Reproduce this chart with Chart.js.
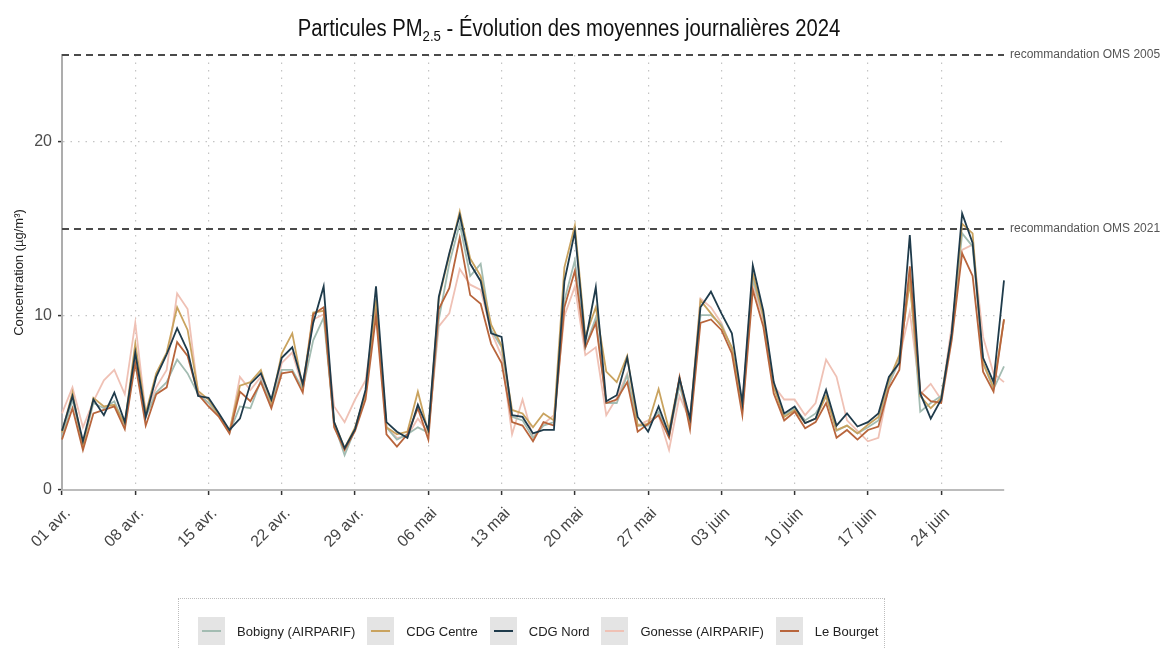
<!DOCTYPE html>
<html lang="fr">
<head>
<meta charset="utf-8">
<script src="https://cdn.jsdelivr.net/npm/chart.js@4.4.1/dist/chart.umd.min.js"></script>
<style>
  body { margin: 0; background: #fff; }
  #wrap { position: relative; width: 1161px; height: 648px; overflow: hidden; font-family: 'Liberation Sans', Arial, sans-serif; }
  #title { position: absolute; top: 15px; left: 0; width: 1138px; text-align: center; font-size: 23px; color: #111;
           transform: scaleX(0.88); transform-origin: 569px 0; }
  #title sub { font-size: 15px; vertical-align: -5px; line-height: 0; }
  #legend { position: absolute; left: 178px; top: 598px; width: 707px; height: 70px; border: 1px dotted #bdbdbd; box-sizing: border-box;
            display: flex; flex-wrap: nowrap; justify-content: flex-start; align-items: flex-start; padding: 18px 0 0 19px;
            font-size: 13px; color: #222; white-space: nowrap; }
  .item { display: flex; flex-shrink: 0; align-items: center; margin-right: 12px; }
  .key { width: 27px; height: 28px; flex-shrink: 0; background: #e4e4e4; position: relative; margin-right: 12px; }
  .key span { position: absolute; left: 4px; right: 4px; top: 13px; height: 2px; }
</style>
</head>
<body>
<div id="wrap">
  <canvas id="chart" width="1161" height="648"></canvas>
  <div id="title">Particules PM<sub>2.5</sub> - Évolution des moyennes journalières 2024</div>
  <div id="legend"></div>
</div>
<script>
// one label per day, 1 April -> 30 June 2024
const days = [
  '01 avr.','02 avr.','03 avr.','04 avr.','05 avr.','06 avr.','07 avr.','08 avr.','09 avr.','10 avr.',
  '11 avr.','12 avr.','13 avr.','14 avr.','15 avr.','16 avr.','17 avr.','18 avr.','19 avr.','20 avr.',
  '21 avr.','22 avr.','23 avr.','24 avr.','25 avr.','26 avr.','27 avr.','28 avr.','29 avr.','30 avr.',
  '01 mai','02 mai','03 mai','04 mai','05 mai','06 mai','07 mai','08 mai','09 mai','10 mai',
  '11 mai','12 mai','13 mai','14 mai','15 mai','16 mai','17 mai','18 mai','19 mai','20 mai',
  '21 mai','22 mai','23 mai','24 mai','25 mai','26 mai','27 mai','28 mai','29 mai','30 mai','31 mai',
  '01 juin','02 juin','03 juin','04 juin','05 juin','06 juin','07 juin','08 juin','09 juin','10 juin',
  '11 juin','12 juin','13 juin','14 juin','15 juin','16 juin','17 juin','18 juin','19 juin','20 juin',
  '21 juin','22 juin','23 juin','24 juin','25 juin','26 juin','27 juin','28 juin','29 juin','30 juin'
];

const bobigny = [
  3.0,5.2,2.6,5.0,4.7,5.1,3.7,7.9,4.2,5.6, 6.2,7.5,6.7,5.5,5.0,4.3,3.3,4.8,4.7,6.3,
  4.9,6.9,6.9,5.8,8.6,9.9,3.8,2.0,3.5,5.6, 11.0,3.6,2.9,3.2,3.6,3.3,9.8,13.0,15.3,12.3,
  13.0,9.2,8.2,4.2,4.0,3.0,3.7,3.9,10.9,13.2, 8.2,9.9,5.0,5.0,6.6,3.7,3.7,4.5,3.1,6.0,
  3.8,10.05,10.05,9.5,8.1,4.6,12.1,10.0,6.0,4.3, 4.7,4.0,4.4,5.4,3.4,3.7,3.25,3.6,4.0,6.1,
  7.4,12.3,4.5,5.0,5.4,8.8,14.75,14.0,7.3,5.8, 7.1
];
const cdgCentre = [
  3.3,5.6,2.5,5.3,4.8,4.9,3.8,8.4,4.4,6.7, 7.9,10.5,9.2,5.7,5.2,4.3,3.4,6.0,6.2,6.9,
  5.0,7.85,9.0,5.9,10.2,10.3,3.9,2.4,3.6,5.5, 10.9,3.6,3.2,3.35,5.65,3.3,11.0,13.5,16.0,13.3,
  12.3,9.5,8.3,4.6,4.4,3.6,4.4,4.0,12.8,15.2, 8.8,10.5,6.8,6.2,7.7,3.7,3.8,5.8,3.45,6.4,
  3.9,10.9,10.15,9.4,8.2,4.8,12.45,10.0,5.9,4.2, 4.6,3.85,4.1,5.4,3.45,3.7,3.25,3.75,4.2,6.3,
  7.75,11.9,5.4,4.7,5.3,8.9,15.3,14.75,7.3,5.9, 9.8
];
const cdgNord = [
  3.4,5.4,2.8,5.2,4.3,5.6,3.9,7.9,4.2,6.5, 7.8,9.3,8.0,5.4,5.3,4.4,3.45,4.1,6.1,6.7,
  5.2,7.6,8.2,6.1,9.6,11.7,3.9,2.4,3.5,5.75, 11.7,3.9,3.35,3.0,4.9,3.45,11.1,13.6,15.8,13.0,
  12.0,9.0,8.8,4.3,4.2,3.25,3.45,3.45,12.0,14.85, 8.5,11.65,5.1,5.45,7.6,4.2,3.35,4.8,3.2,6.4,
  4.1,10.5,11.4,10.15,9.0,5.0,12.9,10.3,6.2,4.4, 4.8,3.85,4.1,5.75,3.7,4.4,3.65,3.9,4.4,6.5,
  7.3,14.65,5.55,4.1,5.2,9.0,15.9,14.2,7.6,6.2, 12.05
];
const gonesse = [
  4.4,5.9,3.6,5.1,6.3,6.9,5.5,9.6,4.4,5.9, 6.9,11.3,10.4,5.6,5.0,4.3,3.3,6.5,5.75,6.5,
  4.9,7.3,7.9,5.9,9.8,10.1,4.8,3.9,5.2,6.3, 10.3,3.6,3.0,3.1,4.1,3.3,9.4,10.15,12.7,11.8,
  11.5,9.1,7.7,3.2,5.2,3.0,3.8,4.3,10.0,11.7, 7.75,8.2,4.3,5.3,6.7,3.7,4.0,4.3,2.3,5.4,
  4.0,11.0,10.5,9.6,8.1,4.7,11.8,9.8,6.0,5.2, 5.2,4.3,5.0,7.5,6.5,4.0,3.4,2.8,3.0,6.0,
  7.6,10.25,5.5,6.1,5.2,9.4,13.8,14.1,8.8,6.7, 6.2
];
const leBourget = [
  2.9,4.7,2.3,4.4,4.6,4.8,3.5,7.3,3.7,5.5, 5.9,8.5,7.7,5.5,4.8,4.2,3.25,5.65,5.1,6.2,
  4.7,6.7,6.8,5.6,10.1,10.5,3.6,2.3,3.4,5.2, 10.0,3.2,2.5,3.2,4.7,2.9,10.4,11.6,14.5,11.2,
  10.7,8.4,7.3,3.9,3.7,2.8,3.9,3.7,10.5,12.6, 8.2,9.6,5.0,5.2,6.2,3.35,3.8,4.3,3.0,6.5,
  3.5,9.6,9.8,9.2,7.85,4.3,11.5,9.4,5.55,4.0, 4.5,3.55,3.9,5.0,3.0,3.45,2.9,3.45,3.65,5.85,
  6.9,12.85,5.65,5.1,5.0,8.6,13.6,12.3,6.8,5.65, 9.8
];

const seriesNames = ['Bobigny (AIRPARIF)', 'CDG Centre', 'CDG Nord', 'Gonesse (AIRPARIF)', 'Le Bourget'];
const seriesColors = ['#a3bcb2', '#c9a35f', '#1f3b4b', '#efc1b5', '#b8653c'];
const seriesData = [bobigny, cdgCentre, cdgNord, gonesse, leBourget];
const drawOrder = [4, 3, 1, 5, 2];

const yTicks = [0, 10, 20];
const refLines = [15, 25];
const refLabels = ['recommandation OMS 2021', 'recommandation OMS 2005'];

// WHO guideline lines + labels on the right
const refPlugin = {
  id: 'refLines',
  beforeDatasetsDraw(chart) {
    const {ctx, chartArea, scales: {y}} = chart;
    ctx.save();
    refLines.forEach((v, i) => {
      const py = y.getPixelForValue(v);
      ctx.strokeStyle = '#4a4a4a';
      ctx.lineWidth = 2;
      ctx.setLineDash([7, 5]);
      ctx.beginPath();
      ctx.moveTo(chartArea.left, py);
      ctx.lineTo(chartArea.right, py);
      ctx.stroke();
      ctx.setLineDash([]);
      ctx.fillStyle = '#555';
      ctx.font = "12px 'Liberation Sans', sans-serif";
      ctx.textBaseline = 'middle';
      ctx.textAlign = 'left';
      ctx.fillText(refLabels[i], chartArea.right + 6, py);
    });
    ctx.restore();
  }
};

const datasets = seriesNames.map((name, i) => ({
  label: name,
  data: seriesData[i],
  borderColor: seriesColors[i],
  borderWidth: 1.8,
  pointRadius: 0,
  tension: 0,
  order: drawOrder[i]
}));

new Chart(document.getElementById('chart'), {
  type: 'line',
  data: { labels: days, datasets: datasets },
  options: {
    responsive: false,
    animation: false,
    layout: { padding: { top: 55, right: 157, left: 0, bottom: 0 } },
    plugins: {
      legend: { display: false },
      title: { display: false },
      tooltip: { enabled: false }
    },
    scales: {
      x: {
        afterFit: s => { s.height = 158; },
        grid: { color: '#c4c4c4', lineWidth: 1.2, tickColor: '#333', tickLength: 5, tickWidth: 1.5 },
        border: { color: '#bcbcbc', width: 2, dash: [1.5, 6] },
        ticks: {
          autoSkip: false, maxRotation: 45, minRotation: 45, padding: 9, labelOffset: 6,
          color: '#444', font: { size: 16, family: "'Liberation Sans', Arial, sans-serif" },
          callback: function (val, idx) { return idx % 7 === 0 ? days[idx] : null; }
        }
      },
      y: {
        min: 0, max: 25,
        afterFit: s => { s.width = 62; },
        afterBuildTicks: s => { s.ticks = yTicks.map(v => ({ value: v })); },
        grid: { color: '#c4c4c4', lineWidth: 1.2, tickColor: '#333', tickLength: 4, tickWidth: 1.5 },
        border: { color: '#adadad', width: 2, dash: [1.5, 6] },
        ticks: { color: '#4d4d4d', padding: 6, font: { size: 16, family: "'Liberation Sans', Arial, sans-serif" } },
        title: {
          display: true, text: 'Concentration (µg/m³)', color: '#222',
          padding: { top: 12, bottom: 0 },
          font: { size: 13, family: "'Liberation Sans', Arial, sans-serif" }
        }
      }
    }
  },
  plugins: [refPlugin]
});

// legend built from the same series lists
const legend = document.getElementById('legend');
seriesNames.forEach((name, i) => {
  const it = document.createElement('div');
  it.className = 'item';
  it.innerHTML = '<div class="key"><span style="background:' + seriesColors[i] + '"></span></div><div>' + name + '</div>';
  legend.appendChild(it);
});
</script>
</body>
</html>
